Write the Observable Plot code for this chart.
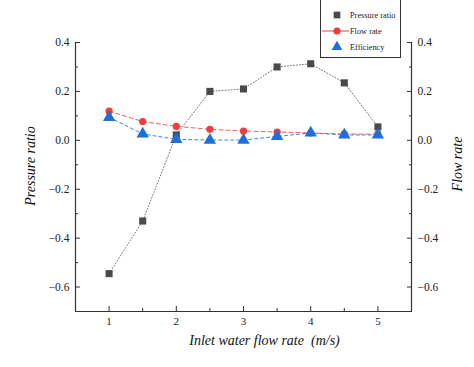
<!DOCTYPE html>
<html><head><meta charset="utf-8">
<script src="https://cdn.jsdelivr.net/npm/d3@7"></script>
<script src="https://cdn.jsdelivr.net/npm/@observablehq/plot@0.6"></script>
<style>
body{margin:0;background:#fff;font-family:"Liberation Serif","DejaVu Serif",serif;}
#wrap{position:relative;width:474px;height:367px;}
#chart svg, #chart svg text{font-family:"Liberation Serif","DejaVu Serif",serif !important;}
#legend{position:absolute;left:320px;top:-1px;width:81px;height:59px;border:1px solid #333;border-top:none;background:#fff;box-sizing:border-box;}
#legend svg text{font-family:"Liberation Serif","DejaVu Serif",serif;}
</style></head>
<body><div id="wrap"><div id="chart"></div><div id="legend"></div></div>
<script>
const xValues = [1, 1.5, 2, 2.5, 3, 3.5, 4, 4.5, 5];
const pressureRatio = [-0.545, -0.33, 0.022, 0.2, 0.21, 0.30, 0.313, 0.235, 0.055];
const flowRate = [0.119, 0.077, 0.057, 0.045, 0.038, 0.034, 0.03, 0.026, 0.025];
const efficiency = [0.094, 0.026, 0.004, 0.001, 0.001, 0.016, 0.03, 0.022, 0.022];
const seriesNames = ["Pressure ratio", "Flow rate", "Efficiency"];
const xTicks = [1, 2, 3, 4, 5];
const xMinorTicks = [1.5, 2.5, 3.5, 4.5];
const yTicks = [-0.6, -0.4, -0.2, 0, 0.2, 0.4];
const yMinorTicks = [-0.7, -0.5, -0.3, -0.1, 0.1, 0.3];
const xDomain = [0.5, 5.5];
const yDomain = [-0.7, 0.4];

const pData = xValues.map((x, i) => ({x, y: pressureRatio[i]}));
const fData = xValues.map((x, i) => ({x, y: flowRate[i]}));
const eData = xValues.map((x, i) => ({x, y: efficiency[i]}));
const fmt = v => d3.format(".1f")(v).replace("-", "\u2212");
const font = "Liberation Serif";

const chart = Plot.plot({
  width: 474, height: 367,
  marginLeft: 75, marginRight: 63, marginTop: 42, marginBottom: 56,
  style: {background: "#fff", overflow: "visible", fontFamily: font},
  x: {domain: xDomain},
  y: {domain: yDomain},
  marks: [
    Plot.ruleX([xDomain[0]], {stroke: "#333", strokeWidth: 1.2}),
    Plot.ruleX([xDomain[1]], {stroke: "#333", strokeWidth: 1.2}),
    Plot.ruleY([yDomain[0]], {stroke: "#333", strokeWidth: 1.2}),
    Plot.axisY(yTicks, {anchor: "left", tickSize: 0, tickPadding: 6, tickFormat: fmt, fontSize: 11.5, fontFamily: font, fill: "#222", label: null}),
    Plot.axisY(yTicks, {anchor: "left", tickSize: -5, text: null, label: null, stroke: "#333"}),
    Plot.axisY(yMinorTicks, {anchor: "left", tickSize: -3, text: null, label: null, stroke: "#333"}),
    Plot.axisY(yTicks, {anchor: "right", tickSize: 0, tickPadding: 6, tickFormat: fmt, fontSize: 11.5, fontFamily: font, fill: "#222", label: null}),
    Plot.axisY(yTicks, {anchor: "right", tickSize: -5, text: null, label: null, stroke: "#333"}),
    Plot.axisY(yMinorTicks, {anchor: "right", tickSize: -3, text: null, label: null, stroke: "#333"}),
    Plot.axisX(xTicks, {anchor: "bottom", tickSize: 0, tickPadding: 6, fontSize: 11, fontFamily: font, fill: "#222", label: null}),
    Plot.axisX(xTicks, {anchor: "bottom", tickSize: -5, text: null, label: null, stroke: "#333"}),
    Plot.axisX(xMinorTicks, {anchor: "bottom", tickSize: -3, text: null, label: null, stroke: "#333"}),
    Plot.line(pData, {x: "x", y: "y", stroke: "#777", strokeWidth: 1, strokeDasharray: "1,2"}),
    Plot.line(fData, {x: "x", y: "y", stroke: "#f06060", strokeWidth: 1, strokeDasharray: "4,3"}),
    Plot.line(eData, {x: "x", y: "y", stroke: "#3d85e0", strokeWidth: 1, strokeDasharray: "3,3"}),
    Plot.dot(pData, {x: "x", y: "y", symbol: "square", r: 4, fill: "#4a4a4a"}),
    Plot.dot(fData, {x: "x", y: "y", symbol: "circle", r: 3.6, fill: "#f03c3c"}),
    Plot.dot(eData, {x: "x", y: "y", symbol: "triangle", r: 4.6, fill: "#1e6fdc"}),
    Plot.text(["Pressure ratio"], {frameAnchor: "left", textAnchor: "middle", dx: -45, dy: -11, rotate: -90, fontSize: 14, fontFamily: font, fontStyle: "italic", fill: "#111"}),
    Plot.text(["Flow rate"], {frameAnchor: "right", textAnchor: "middle", dx: 46, dy: -13, rotate: -90, fontSize: 14, fontFamily: font, fontStyle: "italic", fill: "#111"}),
    Plot.text(["Inlet water flow rate  (m/s)"], {frameAnchor: "bottom", textAnchor: "middle", dx: 21, dy: 33, fontSize: 14, fontFamily: font, fontStyle: "italic", fill: "#111"})
  ]
});
document.getElementById("chart").appendChild(chart);

// legend
const lg = d3.select("#legend").append("svg").attr("width", 80).attr("height", 58);
const sym = [d3.symbolSquare, d3.symbolCircle, d3.symbolTriangle];
const cols = ["#4a4a4a", "#f03c3c", "#1e6fdc"];
const sizes = [45, 40, 50];
seriesNames.forEach((name, i) => {
  const y = 16 + i * 16;
  const g = lg.append("g");
  if (i === 1) g.append("line").attr("x1", 1).attr("x2", 28).attr("y1", y).attr("y2", y).attr("stroke", "#f03c3c").attr("stroke-width", 1);
  g.append("path").attr("d", d3.symbol(sym[i], sizes[i])()).attr("transform", `translate(16,${y})`).attr("fill", cols[i]);
  g.append("text").attr("x", 29).attr("y", y).attr("dy", "0.35em").attr("font-size", 8.3).attr("fill", "#222").text(name);
});
</script>
</body></html>
